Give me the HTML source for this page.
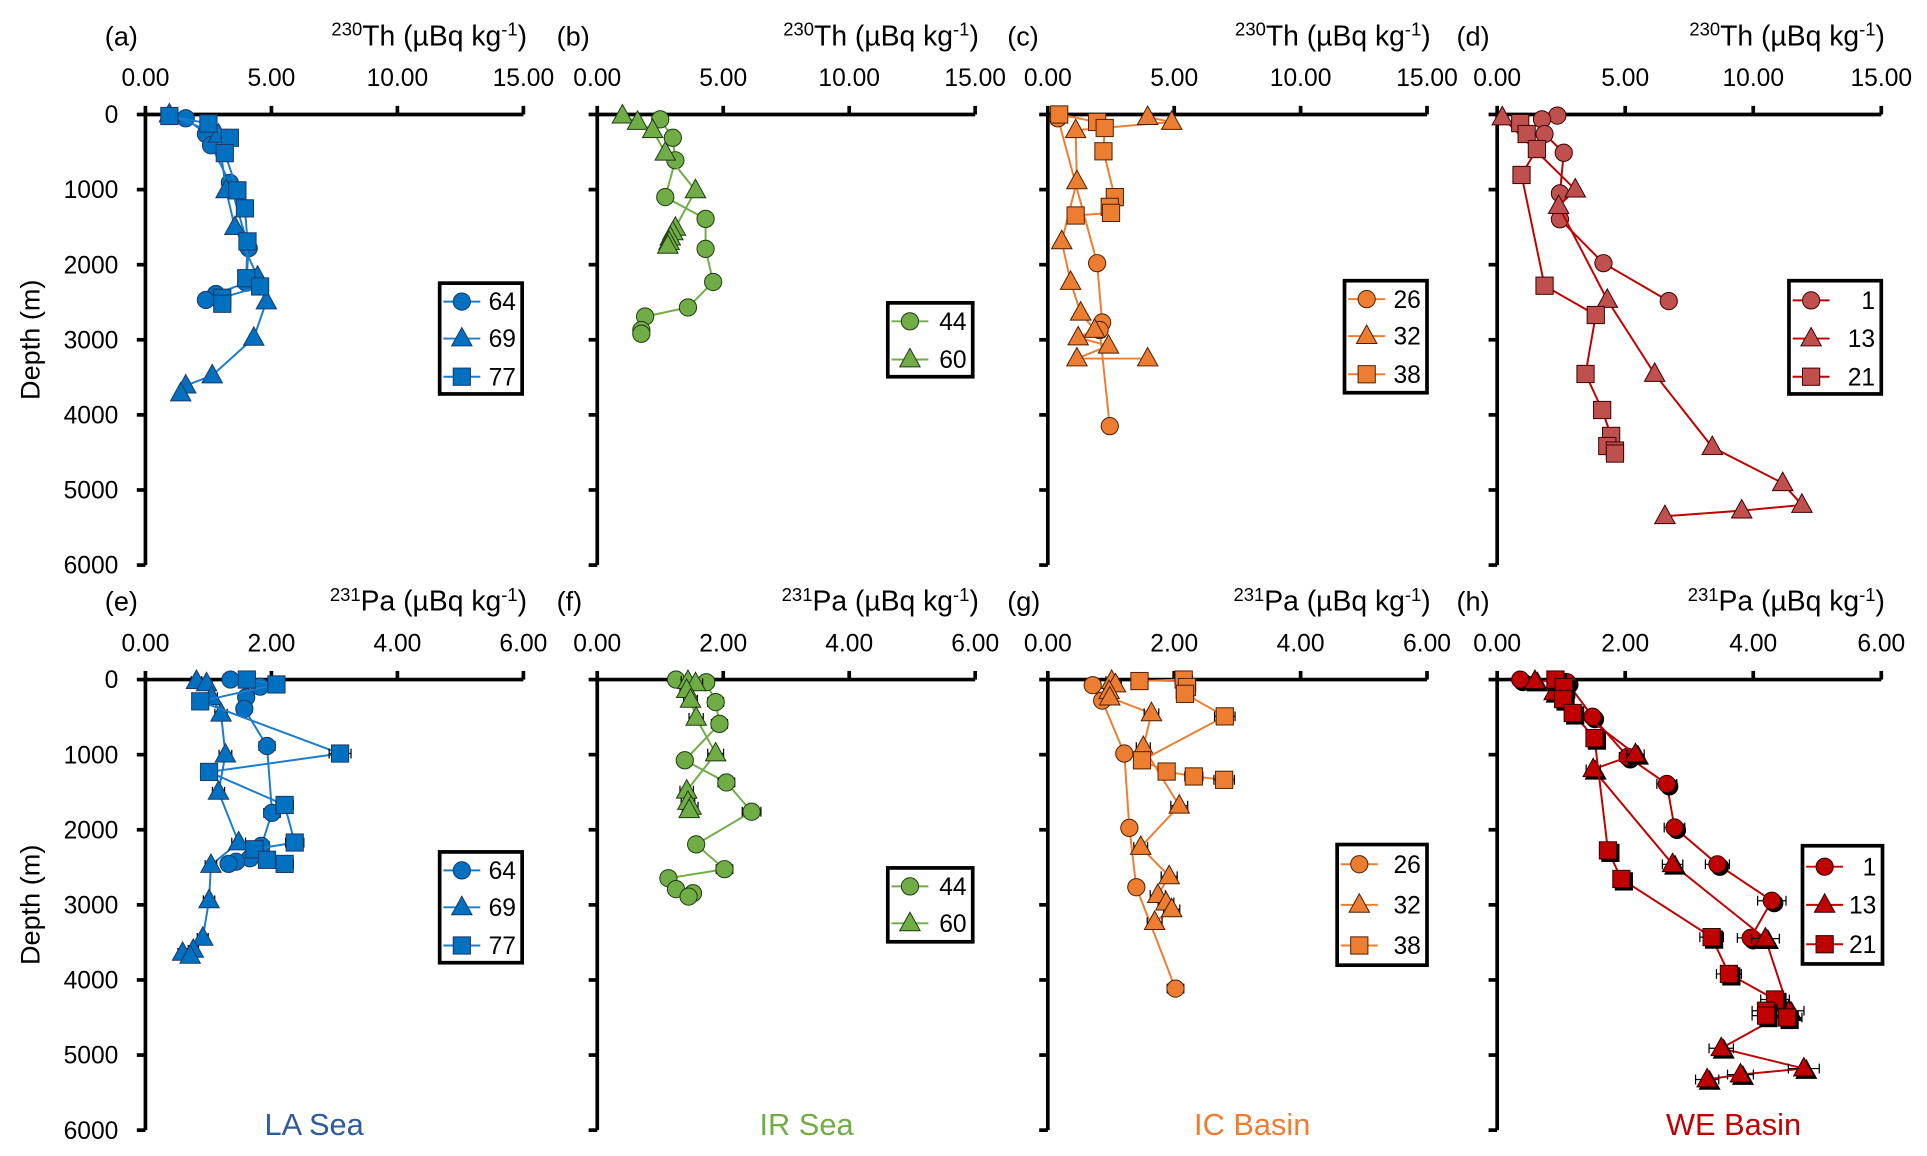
<!DOCTYPE html>
<html><head><meta charset="utf-8"><style>
html,body{margin:0;padding:0;background:#fff;}
svg{display:block;font-family:"Liberation Sans",sans-serif;}
</style></head>
<body>
<svg id="chart" width="1927" height="1156" viewBox="0 0 1565 939" xmlns="http://www.w3.org/2000/svg"></svg>
<script>
// ===== Data (value, depth m) =====
const a64x=[1.6,2.4,2.6,3.35,4.1,4.0,2.8,2.4];
const a64d=[50,260,410,910,1780,2240,2390,2470];
const a69x=[0.95,2.9,3.2,3.55,4.45,4.8,4.3,2.65,1.6,1.4];
const a69d=[0,270,1010,1500,2160,2490,2975,3475,3610,3715];
const a77x=[0.95,2.5,3.35,3.15,3.65,3.95,4.05,4.0,4.55,3.05,3.05];
const a77d=[20,120,310,515,1010,1250,1690,2180,2290,2440,2520];
const b44x=[2.5,3.0,3.1,2.7,4.3,4.3,4.6,3.6,1.9,1.75,1.75];
const b44d=[65,310,610,1100,1390,1790,2230,2570,2690,2870,2920];
const b60x=[1.0,1.6,2.2,2.7,3.9,3.1,3.0,2.9,2.85,2.8];
const b60d=[15,100,210,510,1010,1510,1570,1640,1700,1750];
const c26x=[0.4,1.95,2.15,2.05,2.45];
const c26d=[50,1980,2770,2870,4150];
const c32x=[3.95,4.9,1.1,1.15,0.55,0.9,1.3,1.85,1.2,2.4,1.15,3.95];
const c32d=[35,100,210,890,1690,2230,2640,2870,2970,3080,3250,3250];
const c38x=[0.45,1.95,2.25,2.2,2.65,2.45,2.5,1.1];
const c38d=[0,100,180,490,1100,1230,1310,1345];
const d1x=[2.35,1.75,1.85,2.6,2.45,2.45,4.15,6.7];
const d1d=[15,65,260,510,1050,1395,1980,2485];
const d13x=[0.2,3.05,2.4,4.3,6.15,8.4,11.15,11.9,9.55,6.55];
const d13d=[40,1000,1220,2470,3455,4430,4910,5200,5275,5350];
const d21x=[0.9,1.15,1.55,0.95,1.85,3.85,3.45,4.1,4.45,4.3,4.6,4.6];
const d21d=[115,260,460,805,2280,2670,3455,3935,4280,4415,4475,4515];
const e64x=[1.35,1.82,1.6,1.57,1.93,2.01,1.84,1.66,1.44,1.32];
const e64d=[0,95,235,390,885,1775,2215,2380,2425,2455];
const e69x=[0.81,0.97,1.05,1.2,1.27,1.16,1.48,1.04,1.01,0.91,0.76,0.59,0.71];
const e69d=[20,50,235,455,1000,1495,2170,2470,2940,3440,3600,3640,3680];
const e77x=[1.61,2.08,0.87,3.09,1.01,2.21,2.37,1.73,1.93,2.21];
const e77d=[0,65,290,985,1230,1670,2170,2260,2400,2455];
const f44x=[1.25,1.73,1.88,1.94,1.39,2.05,2.45,1.57,2.02,1.13,1.25,1.52,1.45];
const f44d=[0,35,300,590,1075,1370,1760,2195,2525,2645,2790,2845,2890];
const f60x=[1.44,1.56,1.42,1.48,1.57,1.88,1.42,1.44,1.49,1.46];
const f60d=[20,50,140,270,510,985,1480,1630,1695,1740];
const g26x=[0.71,0.86,1.21,1.29,1.40,2.02];
const g26d=[75,280,985,1975,2765,4115];
const g32x=[1.01,1.07,0.97,0.98,1.64,1.51,2.08,1.47,1.92,1.74,1.87,1.96,1.69];
const g32d=[20,65,155,240,450,900,1680,2230,2620,2870,2970,3060,3230];
const g38x=[1.45,2.15,2.2,2.17,2.80,1.49,1.88,2.31,2.79];
const g38d=[20,0,100,190,490,1075,1225,1290,1335];
const h1x=[0.36,1.09,1.49,2.04,2.65,2.77,3.44,4.29,3.96];
const h1d=[0,35,495,1030,1390,1970,2460,2945,3440];
const h13x=[0.59,0.89,2.16,1.5,2.74,4.19,4.56,3.5,4.79,3.8,3.28];
const h13d=[20,170,995,1195,2460,3450,4410,4910,5180,5260,5325];
const h21x=[0.91,1.04,1.03,1.18,1.52,1.73,1.94,3.35,3.62,4.34,4.2,4.2,4.53];
const h21d=[0,100,260,445,780,2275,2655,3430,3920,4260,4410,4475,4500];
const thTicks=["0.00","5.00","10.00","15.00"];
const thVals=[0,5,10,15];
const paTicks=["0.00","2.00","4.00","6.00"];
const paVals=[0,2,4,6];
const depthTicks=[0,1000,2000,3000,4000,5000,6000];

const NS="http://www.w3.org/2000/svg";
const svg=document.getElementById("chart");
function mk(tag,attrs,parent){const e=document.createElementNS(NS,tag);for(const k in attrs)e.setAttribute(k,attrs[k]);(parent||svg).appendChild(e);return e;}

function marker(g,shape,cx,cy,fill,stroke,shadow){
  let e;
  const draw=(x,y,f,s)=>{
    if(shape==="circle")return mk("circle",{cx:x,cy:y,r:7,fill:f,stroke:s,"stroke-width":0.8},g);
    if(shape==="tri")return mk("polygon",{points:`${x},${y-9} ${x-8.3},${y+6} ${x+8.3},${y+6}`,fill:f,stroke:s,"stroke-width":0.8},g);
    return mk("rect",{x:x-7,y:y-7,width:14,height:14,fill:f,stroke:s,"stroke-width":0.8},g);
  };
  if(shadow){const s=draw(cx+2,cy+2,"#000","#000");}
  e=draw(cx,cy,fill,stroke);
  return e;
}

const panels=[
 {id:"a",x0:118,x1:425,y0:93,y1:459,max:15,ticks:thTicks,tv:thVals,iso:"230",el:"Th",line:"#1a7ccc",fill:"#0070c0",stroke:"#1f3864",
  series:[["64","circle",a64x,a64d],["69","tri",a69x,a69d],["77","sq",a77x,a77d]],leg:[357,230,424,320],legY:[245,275,306],ylab:true},
 {id:"b",x0:485,x1:792,y0:93,y1:459,max:15,ticks:thTicks,tv:thVals,iso:"230",el:"Th",line:"#70ad47",fill:"#70ad47",stroke:"#1e3a10",
  series:[["44","circle",b44x,b44d],["60","tri",b60x,b60d]],leg:[721,246,790,306],legY:[261,292]},
 {id:"c",x0:851,x1:1159,y0:93,y1:459,max:15,ticks:thTicks,tv:thVals,iso:"230",el:"Th",line:"#ed7d31",fill:"#ed7d31",stroke:"#4a2000",
  series:[["26","circle",c26x,c26d],["32","tri",c32x,c32d],["38","sq",c38x,c38d]],leg:[1092,228,1159,319],legY:[243,273,304]},
 {id:"d",x0:1216,x1:1528,y0:93,y1:459,max:15,ticks:thTicks,tv:thVals,iso:"230",el:"Th",line:"#c00000",fill:"#c0504d",stroke:"#3a0000",
  series:[["1","circle",d1x,d1d],["13","tri",d13x,d13d],["21","sq",d21x,d21d]],leg:[1453,228,1528,320],legY:[244,275,306]},
 {id:"e",x0:118,x1:425,y0:552,y1:918,max:6,ticks:paTicks,tv:paVals,iso:"231",el:"Pa",line:"#1a7ccc",fill:"#0070c0",stroke:"#1f3864",err:true,
  series:[["64","circle",e64x,e64d],["69","tri",e69x,e69d],["77","sq",e77x,e77d]],leg:[357,692,424,782],legY:[707,737,768],ylab:true,basin:"LA Sea",bc:"#2e5a9e",bx:255},
 {id:"f",x0:485,x1:792,y0:552,y1:918,max:6,ticks:paTicks,tv:paVals,iso:"231",el:"Pa",line:"#70ad47",fill:"#70ad47",stroke:"#1e3a10",err:true,
  series:[["44","circle",f44x,f44d],["60","tri",f60x,f60d]],leg:[721,705,790,765],legY:[720,750],basin:"IR Sea",bc:"#70ad47",bx:655},
 {id:"g",x0:851,x1:1159,y0:552,y1:918,max:6,ticks:paTicks,tv:paVals,iso:"231",el:"Pa",line:"#ed7d31",fill:"#ed7d31",stroke:"#4a2000",err:true,
  series:[["26","circle",g26x,g26d],["32","tri",g32x,g32d],["38","sq",g38x,g38d]],leg:[1086,686,1159,784],legY:[702,735,768],basin:"IC Basin",bc:"#ed7d31",bx:1017},
 {id:"h",x0:1216,x1:1528,y0:552,y1:918,max:6,ticks:paTicks,tv:paVals,iso:"231",el:"Pa",line:"#c00000",fill:"#c00000",stroke:"#2a0000",err:true,shadow:true,
  series:[["1","circle",h1x,h1d],["13","tri",h13x,h13d],["21","sq",h21x,h21d]],leg:[1464,687,1529,783],legY:[704,735,767],basin:"WE Basin",bc:"#c00000",bx:1408}
];

panels.forEach(p=>{
  const g=mk("g",{});
  
  
  const X=v=>p.x0+(p.x1-p.x0)*v/p.max;
  const Y=d=>p.y0+(p.y1-p.y0)*d/6000;
  const lab=mk("text",{x:p.x0-33,y:p.y0-56,"font-size":22,fill:"#000"},g);
  lab.textContent="("+p.id+")";
  
  
  const t=mk("text",{x:p.x1+3,y:p.y0-56,"font-size":23,"text-anchor":"end",fill:"#000"},g);
  
  
  const ts=mk("tspan",{"font-size":15,dy:-8},t);ts.textContent=p.iso;
  const tm=mk("tspan",{dy:8},t);tm.textContent=p.el+(p.el==="Pa"?"  ":" ")+"(µBq kg";
  const te=mk("tspan",{"font-size":15,dy:-8},t);te.textContent="-1";
  const tc=mk("tspan",{dy:8},t);tc.textContent=")";
  const ax=mk("line",{x1:p.x0,y1:p.y0,x2:p.x1,y2:p.y0,stroke:"#000","stroke-width":3},g);
  
  
  const ay=mk("line",{x1:p.x0,y1:p.y0-1.5,x2:p.x0,y2:p.y1,stroke:"#000","stroke-width":3},g);
  
  
  p.tv.forEach((v,i)=>{
    mk("line",{x1:X(v),y1:p.y0,x2:X(v),y2:p.y0-7,stroke:"#000","stroke-width":3},g);
    const tl=mk("text",{x:X(v),y:p.y0-23,"font-size":20,"text-anchor":"middle",fill:"#000"},g);
    tl.textContent=p.ticks[i];
    
    
  });
  depthTicks.forEach(d=>{
    mk("line",{x1:p.x0,y1:Y(d),x2:p.x0-7,y2:Y(d),stroke:"#000","stroke-width":3},g);
    if(p.ylab){
      const yl=mk("text",{x:p.x0-22,y:Y(d)+7,"font-size":20,"text-anchor":"end",fill:"#000"},g);
      yl.textContent=String(d);
      
      
    }
  });
  if(p.ylab){
    const yc=(p.y0+p.y1)/2;
    const yt=mk("text",{x:32,y:yc,"font-size":22,"text-anchor":"middle",transform:`rotate(-90 32 ${yc})`,fill:"#000"},g);
    yt.textContent="Depth (m)";
    
    
  }
  if(p.basin){
    const b=mk("text",{x:p.bx,y:p.y1+4,"font-size":25,"text-anchor":"middle",fill:p.bc},g);
    b.textContent=p.basin;
    
    
  }
  p.series.forEach(s=>{
    const [name,shape,xs,ds]=s;
    const sg=mk("g",{},g);
    
    
    const pts=xs.map((v,i)=>X(v)+","+Y(ds[i])).join(" ");
    const pl=mk("polyline",{points:pts,fill:"none",stroke:p.line,"stroke-width":1.6},sg);
    
    
    if(p.err){
      xs.forEach((v,i)=>{
        const e=0.05+0.04*v, y=Y(ds[i]);
        const eb=mk("path",{d:`M${X(v-e)},${y}H${X(v+e)}M${X(v-e)},${y-4}V${y+4}M${X(v+e)},${y-4}V${y+4}`,stroke:"#000","stroke-width":1,fill:"none"},sg);
        
        
      });
    }
    xs.forEach((v,i)=>{
      const m=marker(sg,shape,X(v),Y(ds[i]),p.fill,p.stroke,p.shadow);
      
      
    });
  });
  const [lx0,ly0,lx1,ly1]=p.leg;
  const lg=mk("g",{},g);
  
  
  mk("rect",{x:lx0,y:ly0,width:lx1-lx0,height:ly1-ly0,fill:"#fff",stroke:"#000","stroke-width":3},lg);
  p.series.forEach((s,i)=>{
    const yy=p.legY[i];
    const le=mk("g",{},lg);
    
    
    mk("line",{x1:lx0+3,y1:yy,x2:lx0+33,y2:yy,stroke:p.line,"stroke-width":1.6},le);
    marker(le,s[1],lx0+18,yy,p.fill,p.stroke,false);
    const lt=mk("text",{x:lx1-5,y:yy+7,"font-size":20,"text-anchor":"end",fill:"#000"},le);
    lt.textContent=s[0];
  });
});
</script>
</body></html>
